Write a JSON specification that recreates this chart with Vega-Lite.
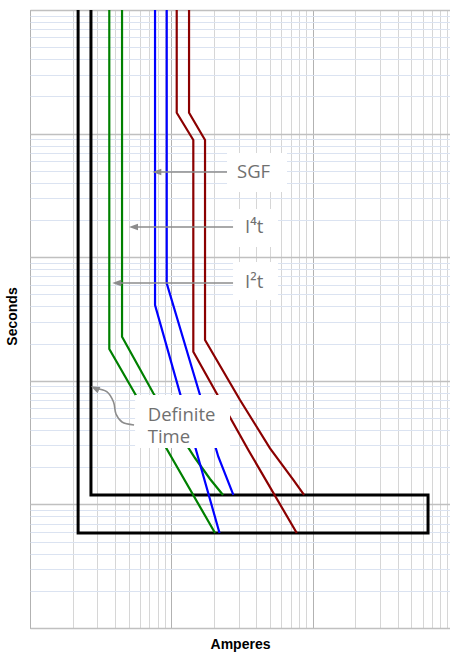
{
  "$schema": "https://vega.github.io/schema/vega-lite/v6.json",
  "width": 420,
  "height": 618,
  "autosize": {"type": "none"},
  "padding": {"left": 30, "top": 10, "right": 0, "bottom": 26},
  "background": "white",
  "config": {"view": {"stroke": "#9a9a9a", "strokeWidth": 1}},
  "datasets": {
    "frame": [
      {"s": "DT", "o": 1, "a": 21.9, "t": 1000},
      {"s": "DT", "o": 2, "a": 21.9, "t": 0.0587},
      {"s": "DT", "o": 3, "a": 6556, "t": 0.0587},
      {"s": "DT", "o": 4, "a": 6556, "t": 0.1192},
      {"s": "DT", "o": 5, "a": 27.0, "t": 0.1192},
      {"s": "DT", "o": 6, "a": 27.0, "t": 1000}
    ],
    "curves": [
      {"s": "G1", "o": 1, "a": 36.4, "t": 1000},
      {"s": "G1", "o": 2, "a": 36.4, "t": 1.808},
      {"s": "G1", "o": 3, "a": 203.9, "t": 0.0587},
      {"s": "G2", "o": 1, "a": 44.8, "t": 1000},
      {"s": "G2", "o": 2, "a": 44.8, "t": 2.274},
      {"s": "G2", "o": 3, "a": 74.6, "t": 0.7924},
      {"s": "G2", "o": 4, "a": 147.1, "t": 0.2373},
      {"s": "G2", "o": 5, "a": 187.9, "t": 0.1605},
      {"s": "G2", "o": 6, "a": 232.2, "t": 0.1192},
      {"s": "B1", "o": 1, "a": 76.7, "t": 1000},
      {"s": "B1", "o": 2, "a": 76.7, "t": 4.105},
      {"s": "B1", "o": 3, "a": 219.3, "t": 0.0587},
      {"s": "B2", "o": 1, "a": 92.8, "t": 1000},
      {"s": "B2", "o": 2, "a": 92.8, "t": 6.149},
      {"s": "B2", "o": 3, "a": 159.6, "t": 0.7675},
      {"s": "B2", "o": 4, "a": 215.1, "t": 0.2431},
      {"s": "B2", "o": 5, "a": 274.7, "t": 0.1192},
      {"s": "R1", "o": 1, "a": 109.2, "t": 1000},
      {"s": "R1", "o": 2, "a": 109.2, "t": 147.6},
      {"s": "R1", "o": 3, "a": 143.1, "t": 88.8},
      {"s": "R1", "o": 4, "a": 143.1, "t": 1.719},
      {"s": "R1", "o": 5, "a": 350.7, "t": 0.2754},
      {"s": "R1", "o": 6, "a": 772, "t": 0.0587},
      {"s": "R2", "o": 1, "a": 133.5, "t": 1000},
      {"s": "R2", "o": 2, "a": 133.5, "t": 147.6},
      {"s": "R2", "o": 3, "a": 173.2, "t": 88.8},
      {"s": "R2", "o": 4, "a": 173.2, "t": 2.138},
      {"s": "R2", "o": 5, "a": 306.3, "t": 0.6993},
      {"s": "R2", "o": 6, "a": 499.5, "t": 0.2843},
      {"s": "R2", "o": 7, "a": 730.1, "t": 0.1577},
      {"s": "R2", "o": 8, "a": 869.4, "t": 0.1192}
    ],
    "boxes": [
      {"a": 247.9, "a2": 658.8, "t": 69.66, "t2": 33.69},
      {"a": 273.4, "a2": 569.1, "t": 24.55, "t2": 12.09},
      {"a": 273.4, "a2": 569.1, "t": 9.147, "t2": 4.505},
      {"a": 55.4, "a2": 260.3, "t": 0.7675, "t2": 0.2859}
    ],
    "arrows": [
      {"a": 79.0, "a2": 247.9, "t": 48.9},
      {"a": 54.0, "a2": 273.4, "t": 17.55},
      {"a": 41.1, "a2": 273.4, "t": 6.184}
    ],
    "curvedArrow": [
      {"o": 1, "a": 28.8, "t": 0.871},
      {"o": 2, "a": 34.9, "t": 0.816},
      {"o": 3, "a": 39.0, "t": 0.6738},
      {"o": 4, "a": 40.6, "t": 0.5388},
      {"o": 5, "a": 44.8, "t": 0.4642},
      {"o": 6, "a": 54.5, "t": 0.4388}
    ],
    "curvedHead": [
      {"a": 28.8, "t": 0.871}
    ],
    "labels": [
      {"label": "SGF", "a": 291.7, "t": 43.5},
      {"label": "I⁴t", "a": 332.4, "t": 15.61},
      {"label": "I²t", "a": 332.4, "t": 5.603},
      {"label": "Definite", "a": 68.1, "t": 0.4756},
      {"label": "Time", "a": 68.1, "t": 0.3121}
    ]
  },
  "encoding": {
    "x": {
      "field": "a",
      "type": "quantitative",
      "scale": {"type": "log", "domain": [10, 9376], "nice": false},
      "axis": {
        "title": "Amperes",
        "values": [10, 20, 30, 40, 50, 60, 70, 80, 90, 100, 200, 300, 400, 500, 600, 700, 800, 900, 1000, 2000, 3000, 4000, 5000, 6000, 7000, 8000, 9000],
        "grid": true,
        "ticks": false,
        "labels": false,
        "domain": false,
        "gridColor": {"condition": {"test": "abs(log(datum.value)/LN10 - round(log(datum.value)/LN10)) < 0.01", "value": "#b2b2b2"}, "value": "#d6d6d6"},
        "gridOpacity": 1,
        "gridWidth": 1,
        "titleFont": "Liberation Sans",
        "titleFontSize": 14,
        "titleFontWeight": "bold",
        "titleColor": "#000000",
        "titleX": 210,
        "titleY": 20,
        "titleAlign": "center",
        "titleBaseline": "alphabetic"
      }
    },
    "y": {
      "field": "t",
      "type": "quantitative",
      "scale": {"type": "log", "domain": [0.01, 1000], "nice": false},
      "axis": {
        "title": "Seconds",
        "values": [0.01, 0.02, 0.03, 0.04, 0.05, 0.06, 0.07, 0.08, 0.09, 0.1, 0.2, 0.3, 0.4, 0.5, 0.6, 0.7, 0.8, 0.9, 1, 2, 3, 4, 5, 6, 7, 8, 9, 10, 20, 30, 40, 50, 60, 70, 80, 90, 100, 200, 300, 400, 500, 600, 700, 800, 900, 1000],
        "grid": true,
        "ticks": false,
        "labels": false,
        "domain": false,
        "gridColor": {"condition": {"test": "abs(log(datum.value)/LN10 - round(log(datum.value)/LN10)) < 0.01", "value": "#c0c0c0"}, "value": "#dbe3f1"},
        "gridWidth": {"condition": {"test": "abs(log(datum.value)/LN10 - round(log(datum.value)/LN10)) < 0.01", "value": 1.5}, "value": 1},
        "gridOpacity": 1,
        "titleFont": "Liberation Sans",
        "titleFontSize": 14,
        "titleFontWeight": "bold",
        "titleColor": "#000000",
        "titleAngle": 270,
        "titleX": -18,
        "titleY": 306,
        "titleAlign": "center",
        "titleBaseline": "middle"
      }
    }
  },
  "layer": [
    {
      "data": {"name": "frame"},
      "mark": {"type": "line", "color": "#000000", "strokeWidth": 3, "strokeJoin": "miter", "clip": true},
      "encoding": {"order": {"field": "o", "type": "quantitative"}}
    },
    {
      "data": {"name": "curves"},
      "mark": {"type": "line", "strokeWidth": 2.2, "strokeJoin": "miter", "clip": true},
      "encoding": {
        "color": {
          "field": "s",
          "type": "nominal",
          "scale": {"domain": ["G1", "G2", "B1", "B2", "R1", "R2"], "range": ["#008000", "#008000", "#0000ff", "#0000ff", "#8b0000", "#8b0000"]},
          "legend": null
        },
        "order": {"field": "o", "type": "quantitative"}
      }
    },
    {
      "data": {"name": "boxes"},
      "mark": {"type": "rect", "fill": "#ffffff", "stroke": null},
      "encoding": {
        "x2": {"field": "a2"},
        "y2": {"field": "t2"}
      }
    },
    {
      "data": {"name": "arrows"},
      "mark": {"type": "rule", "color": "#8c8c8c", "strokeWidth": 1.6},
      "encoding": {"x2": {"field": "a2"}}
    },
    {
      "data": {"name": "arrows"},
      "mark": {"type": "point", "shape": "M-1,0L1,-0.75L1,0.75Z", "size": 80, "filled": true, "color": "#8c8c8c", "opacity": 1}
    },
    {
      "data": {"name": "curvedArrow"},
      "mark": {"type": "line", "color": "#8c8c8c", "strokeWidth": 1.6, "interpolate": "catmull-rom"},
      "encoding": {"order": {"field": "o", "type": "quantitative"}}
    },
    {
      "data": {"name": "curvedHead"},
      "mark": {"type": "point", "shape": "M-1,0L1,-0.75L1,0.75Z", "size": 80, "filled": true, "color": "#8c8c8c", "opacity": 1, "angle": 25}
    },
    {
      "data": {"name": "labels"},
      "mark": {"type": "text", "font": "Open Sans", "fontSize": 18.5, "color": "#707070", "align": "left", "baseline": "alphabetic"},
      "encoding": {"text": {"field": "label", "type": "nominal"}}
    }
  ]
}
